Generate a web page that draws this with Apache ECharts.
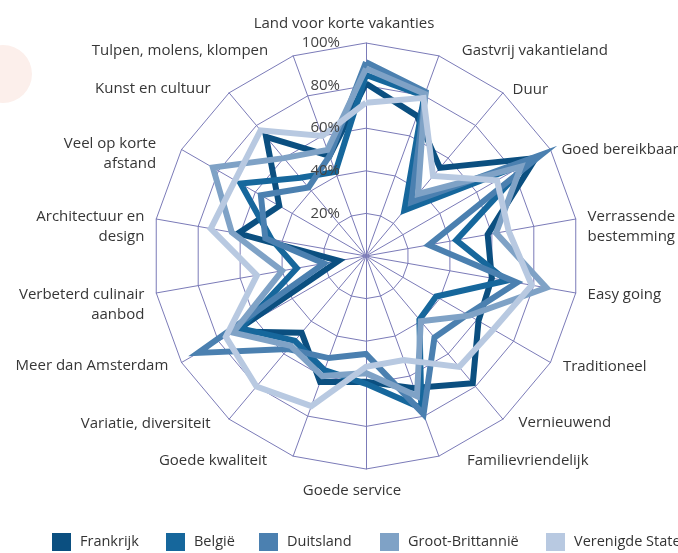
<!DOCTYPE html>
<html>
<head>
<meta charset="utf-8">
<script src="https://cdn.jsdelivr.net/npm/echarts@6/dist/echarts.min.js"></script>
<style>
  html, body { margin: 0; padding: 0; background: #ffffff; }
  #chart { width: 678px; height: 553px; }
</style>
</head>
<body>
<div id="chart"></div>
<script>
// Image attributes, listed clockwise starting at the top
const attributes = [
  'Land voor korte vakanties',
  'Gastvrij vakantieland',
  'Duur',
  'Goed bereikbaar',
  'Verrassende\nbestemming',
  'Easy going',
  'Traditioneel',
  'Vernieuwend',
  'Familievriendelijk',
  'Goede service',
  'Goede kwaliteit',
  'Variatie, diversiteit',
  'Meer dan Amsterdam',
  'Verbeterd culinair\naanbod',
  'Architectuur en\ndesign',
  'Veel op korte\nafstand',
  'Kunst en cultuur',
  'Tulpen, molens, klompen'
];

const countries = ['Frankrijk', 'België', 'Duitsland', 'Groot-Brittannië', 'Verenigde Staten'];

// Scores in percent, same order as attributes
const frankrijk       = [81, 70, 54, 92, 58, 60, 61, 78, 66, 59, 63, 47, 71, 13, 61, 47, 73, 50];
const belgie          = [85, 80, 28, 88, 43, 67, 38, 39, 76, 60, 57, 52, 68, 33, 45, 68, 48, 42];
const duitsland       = [91, 82, 33, 95, 30, 72, 55, 50, 79, 46, 51, 57, 91, 20, 48, 57, 42, 50];
const grootBrittannie = [88, 81, 38, 84, 62, 86, 56, 40, 70, 55, 60, 55, 72, 40, 64, 83, 60, 53];
const verenigdeStaten = [72, 79, 49, 71, 68, 79, 69, 68, 52, 52, 75, 80, 76, 52, 74, 71, 77, 60];

const scaleMax = 100;
const scaleStep = 20;

const seriesValues = [frankrijk, belgie, duitsland, grootBrittannie, verenigdeStaten];
const seriesColors = ['#0b4f80', '#16679c', '#4b80b0', '#7fa2c6', '#b8c9e1'];

// Name placement per attribute (clockwise): distance from the rim and side padding [t, r, b, l]
const nameGaps = [9, 5.6, 4.2, 0, 12, 12, 8, 4.2, 4.6, 12, 4.6, 5.5, 6, 12, 12, 12, 5.5, 5.6];
const namePadding = [
  [0, 44, 0, 0],
  [0, 0, 0, 21],
  [0, 0, 0, 7],
  [0, 0, 0, 11],
  [0, 0, 0, 0],
  [0, 0, 0, 0],
  [0, 0, 0, 5.5],
  [0, 0, 0, 13],
  [0, 0, 0, 26.5],
  [0, 28, 0, 0],
  [0, 24.5, 0, 0],
  [0, 15, 0, 0],
  [0, 8, 0, 0],
  [0, 0, 0, 0],
  [0, 0, 0, 0],
  [0, 15, 0, 0],
  [0, 15, 0, 0],
  [0, 23, 0, 0]
];

// Left edge of each legend swatch
const legendX = [52, 166, 259, 380, 546];

// ECharts lays radar indicators out counter-clockwise; reverse the tail to run clockwise
function clockwise(arr) {
  return [arr[0]].concat(arr.slice(1).reverse());
}

const fontFamily = '"Open Sans", "Noto Sans", sans-serif';
const gridColor = '#7b7bb8';

const names = clockwise(attributes);
const gaps = clockwise(nameGaps);
const paddings = clockwise(namePadding);

// Grid radar: rings, spokes and attribute names (drawn beneath the lines)
const gridIndicators = names.map(function (name, i) {
  return {
    name: name,
    min: 0,
    max: scaleMax,
    nameGap: gaps[i],
    nameTextStyle: { padding: paddings[i] }
  };
});

// Label radar: percentage scale on the top spoke only (drawn above the lines)
const labelIndicators = names.map(function (name, i) {
  const ind = { name: name, min: 0, max: scaleMax };
  if (i === 0) ind.axisLabel = { show: true };
  return ind;
});

const chart = echarts.init(document.getElementById('chart'), null, { renderer: 'canvas' });

const radarBase = {
  center: [366, 256],
  radius: 213,
  startAngle: 90,
  shape: 'polygon',
  splitNumber: scaleMax / scaleStep
};

// One legend block per country, each at its own swatch position
const legends = countries.map(function (c, i) {
  return {
    data: [c],
    left: legendX[i],
    top: 533,
    padding: 0,
    orient: 'horizontal',
    icon: 'rect',
    itemWidth: 19,
    itemHeight: 18,
    textStyle: { color: '#333333', fontSize: 14.5, fontFamily: fontFamily, padding: [0, 0, 0, 4] }
  };
});

chart.setOption({
  animation: false,
  backgroundColor: '#ffffff',
  graphic: [{
    type: 'circle',
    shape: { cx: 3, cy: 74, r: 29 },
    style: { fill: '#fcefeb' },
    z: -1
  }],
  legend: legends,
  radar: [
    Object.assign({}, radarBase, {
      z: 0,
      axisNameGap: 12,
      axisName: {
        color: '#363636',
        fontSize: 15,
        fontFamily: fontFamily,
        lineHeight: 20,
        // two-line names hang their first line on the spoke
        formatter: function (name) { return name.indexOf('\n') >= 0 ? '\n' + name : name; }
      },
      axisLine: { show: true, lineStyle: { color: gridColor, width: 1 } },
      splitLine: { show: true, lineStyle: { color: gridColor, width: 1 } },
      splitArea: { show: false },
      axisTick: { show: false },
      axisLabel: { show: false },
      indicator: gridIndicators
    }),
    Object.assign({}, radarBase, {
      z: 5,
      axisName: { show: false },
      axisLine: { show: false },
      splitLine: { show: false },
      splitArea: { show: false },
      axisTick: { show: false },
      axisLabel: {
        show: false,
        margin: 26,
        color: '#444444',
        fontSize: 15,
        fontFamily: fontFamily,
        formatter: function (v) { return v === 0 ? '' : v + '%'; }
      },
      indicator: labelIndicators
    })
  ],
  series: countries.map(function (name, k) {
    return {
      name: name,
      type: 'radar',
      radarIndex: 0,
      z: 2,
      symbol: 'none',
      color: seriesColors[k],
      lineStyle: { color: seriesColors[k], width: 6, join: 'miter' },
      data: [{ value: clockwise(seriesValues[k]), name: name }]
    };
  })
});
</script>
</body>
</html>
